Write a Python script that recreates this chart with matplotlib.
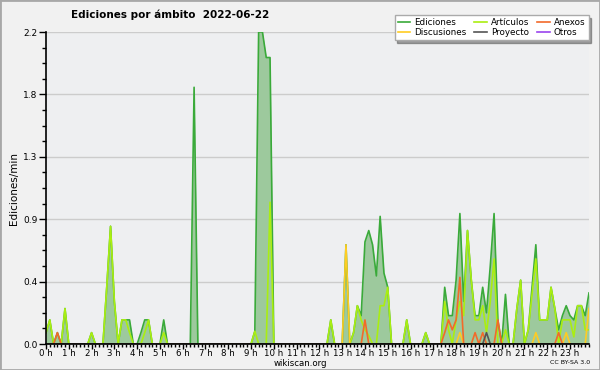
import numpy as np
import matplotlib
matplotlib.use("Agg")
import matplotlib.pyplot as plt
from matplotlib.ticker import MultipleLocator, AutoMinorLocator
from matplotlib.patches import Rectangle

# datos: ediciones por minuto, intervalos de 10 min (6 por hora)
ediciones = [
    0.08, 0.17, 0, 0.08, 0, 0.25, 0, 0, 0, 0, 0, 0,          # 0-2 h
    0.08, 0, 0, 0, 0.4, 0.83, 0.3, 0, 0.17, 0.17, 0.17, 0,   # 2-4 h
    0, 0.08, 0.17, 0.17, 0, 0, 0, 0.17, 0, 0, 0, 0,          # 4-6 h
    0, 0, 0, 1.81, 0, 0, 0, 0, 0, 0, 0, 0,                   # 6-8 h
    0, 0, 0, 0, 0, 0, 0, 0.09, 2.2, 2.2, 2.02, 2.02,         # 8-10 h
    0, 0, 0, 0, 0, 0, 0, 0, 0, 0, 0, 0,                      # 10-12 h
    0, 0, 0, 0.17, 0, 0, 0, 0.7, 0, 0.08, 0.27, 0.2,         # 12-14 h
    0.72, 0.8, 0.7, 0.48, 0.9, 0.5, 0.4, 0, 0, 0, 0, 0.17,   # 14-16 h
    0, 0, 0, 0, 0.08, 0, 0, 0, 0, 0.4, 0.2, 0.2,             # 16-18 h
    0.45, 0.92, 0.3, 0.8, 0.45, 0.2, 0.2, 0.4, 0.22, 0.55, 0.92, 0.17,  # 18-20 h
    0, 0.35, 0, 0, 0.25, 0.45, 0, 0.1, 0.4, 0.7, 0.17, 0.17,            # 20-22 h
    0.17, 0.4, 0.25, 0.1, 0.2, 0.27, 0.2, 0.17, 0.27, 0.27, 0.2, 0.36,  # 22-24 h
]
articulos = [
    0.08, 0.17, 0, 0, 0, 0.25, 0, 0, 0, 0, 0, 0,
    0.08, 0, 0, 0, 0.4, 0.83, 0.3, 0, 0.17, 0.17, 0.08, 0,
    0, 0, 0.08, 0.17, 0, 0, 0, 0.08, 0, 0, 0, 0,
    0, 0, 0, 0, 0, 0, 0, 0, 0, 0, 0, 0,
    0, 0, 0, 0, 0, 0, 0, 0.09, 0, 0, 0, 1.0,
    0, 0, 0, 0, 0, 0, 0, 0, 0, 0, 0, 0,
    0, 0, 0, 0.17, 0, 0, 0, 0, 0, 0.08, 0.27, 0.17,
    0.1, 0.06, 0, 0, 0.27, 0.27, 0.4, 0, 0, 0, 0, 0.17,
    0, 0, 0, 0, 0.08, 0, 0, 0, 0, 0.3, 0.1, 0,
    0.17, 0.3, 0.2, 0.8, 0.45, 0.17, 0.17, 0.27, 0.08, 0.3, 0.6, 0,
    0, 0.1, 0, 0, 0.25, 0.45, 0, 0.1, 0.35, 0.6, 0.17, 0.17,
    0.17, 0.4, 0.25, 0, 0.17, 0.17, 0.17, 0.05, 0.27, 0.27, 0.1, 0.1,
]
anexos = [
    0, 0, 0, 0.08, 0, 0, 0, 0, 0, 0, 0, 0,
    0, 0, 0, 0, 0, 0, 0, 0, 0, 0, 0, 0,
    0, 0, 0, 0, 0, 0, 0, 0, 0, 0, 0, 0,
    0, 0, 0, 0, 0, 0, 0, 0, 0, 0, 0, 0,
    0, 0, 0, 0, 0, 0, 0, 0, 0, 0, 0, 0,
    0, 0, 0, 0, 0, 0, 0, 0, 0, 0, 0, 0,
    0, 0, 0, 0, 0, 0, 0, 0, 0, 0, 0, 0,
    0.17, 0, 0, 0, 0, 0, 0, 0, 0, 0, 0, 0,
    0, 0, 0, 0, 0, 0, 0, 0, 0, 0.08, 0.17, 0.1,
    0.17, 0.47, 0, 0, 0, 0.08, 0, 0.08, 0, 0, 0, 0.17,
    0, 0, 0, 0, 0, 0, 0, 0, 0, 0, 0, 0,
    0, 0, 0, 0.08, 0, 0, 0, 0, 0, 0, 0, 0,
]
discusiones = [0] * 144
discusiones[79] = 0.7
discusiones[109] = 0.08
discusiones[129] = 0.08
discusiones[137] = 0.08
discusiones[143] = 0.25
proyecto = [0] * 144
proyecto[116] = 0.08
otros = [0] * 144

horas = np.arange(144) / 6
hour_labels = ["%d h" % h for h in range(24)]

fig = plt.figure(figsize=(6, 3.7), dpi=100, facecolor="#f1f1f1")
fig.patches.append(Rectangle((0, 0), 1, 1, transform=fig.transFigure,
                             fill=False, edgecolor="#a8a8a8", lw=2))
ax = fig.add_axes([46 / 600, 1 - 344 / 370, 543 / 600, 312 / 370])
ax.set_facecolor("#eeeff1")

ax.fill_between(horas, ediciones, 0, color="#9dc99d", lw=0, zorder=1)
ax.plot(horas, ediciones, color="#3aaa3a", lw=1.2, label="Ediciones", zorder=2)
ax.plot(horas, articulos, color="#aaee11", lw=1.2, label="Artículos", zorder=2.1)
ax.plot(horas, anexos, color="#f26a2a", lw=1.2, label="Anexos", zorder=2.2)
ax.plot(horas, discusiones, color="#ffcc22", lw=1.2, label="Discusiones", zorder=2.15)
ax.plot(horas, proyecto, color="#555555", lw=1.2, label="Proyecto", zorder=2.3)
ax.plot(horas, otros, color="#9944ee", lw=1.2, label="Otros", zorder=2.05)

ax.set_xlim(0, horas[-1])
ax.set_ylim(0, 2.2)
ax.set_xticks(range(24))
ax.set_xticklabels(hour_labels, fontsize=6.2)
ax.xaxis.set_minor_locator(MultipleLocator(1 / 6))
yt = np.linspace(0, 2.2, 6)
ax.set_yticks(yt)
ax.set_yticklabels(["%.1f" % v for v in yt], fontsize=6.5)
ax.yaxis.set_minor_locator(AutoMinorLocator(4))
ax.tick_params(axis="y", which="major", length=5, width=1, pad=1)
ax.tick_params(axis="y", which="minor", length=3, width=1)
ax.tick_params(axis="x", which="major", length=3.5, width=1, pad=0.3)
ax.tick_params(axis="x", which="minor", length=2.5, width=1)
ax.grid(axis="y", color="#cccccc", lw=1)
ax.set_axisbelow(True)
for s in ("top", "right"):
    ax.spines[s].set_visible(False)
for s in ("left", "bottom"):
    ax.spines[s].set_linewidth(1.2)
    ax.spines[s].set_zorder(5)
ax.set_ylabel("Ediciones/min", fontsize=7.5, labelpad=3)

fig.text(170 / 600, 1 - 15 / 370, "Ediciones por ámbito  2022-06-22",
         ha="center", va="center", fontsize=7.5, fontweight="bold")
fig.text(0.5, 1 - 364 / 370, "wikiscan.org", ha="center", va="center", fontsize=6.2)
fig.text(590 / 600, 1 - 363 / 370, "CC BY-SA 3.0", ha="right", va="center", fontsize=4.5)

handles, labels = ax.get_legend_handles_labels()
order = [0, 3, 1, 4, 2, 5]
leg = fig.legend([handles[i] for i in order], [labels[i] for i in order],
                 ncol=3, loc="upper right", bbox_to_anchor=(593 / 600, 1 - 11 / 370),
                 fontsize=6.3, frameon=True, fancybox=False, shadow=True,
                 handlelength=1.4, handletextpad=0.5, columnspacing=0.9,
                 labelspacing=0.05, borderpad=0.35)
leg.get_frame().set_edgecolor("#aaaaaa")
leg.get_frame().set_facecolor("white")

fig.savefig("out.png", dpi=100, facecolor=fig.get_facecolor())
